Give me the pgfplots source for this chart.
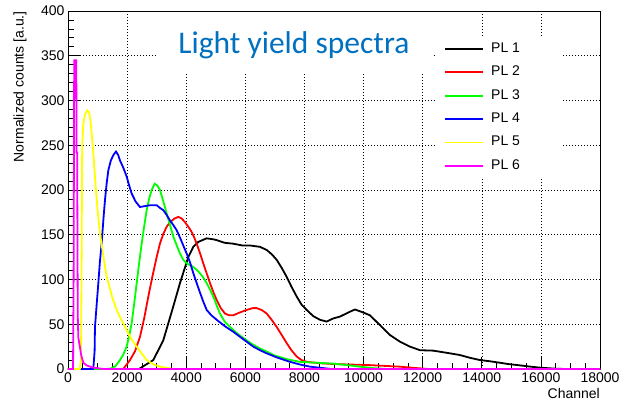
\documentclass[border=0pt]{standalone}
\usepackage{pgfplots}
\pgfplotsset{compat=1.18}
\usepackage{fontspec}
\setmainfont{Liberation Sans}
\newfontfamily\carlito{Carlito}
\definecolor{lyblue}{RGB}{0,112,192}
\definecolor{pl3}{RGB}{0,255,0}
\definecolor{pl5}{RGB}{255,255,0}
\definecolor{pl6}{RGB}{255,0,255}
\begin{document}
\begin{tikzpicture}
\begin{axis}[
 at={(68pt,32pt)}, anchor=south west,
 scale only axis, width=532pt, height=358pt,
 xmin=0, xmax=18000, ymin=0, ymax=400,
 clip=false,
 xtick={0,2000,...,18000}, ytick={0,50,...,400},
 minor x tick num=3, minor y tick num=4,
 tick align=inside, xtick pos=left, ytick pos=left,
 major tick length=12pt, minor tick length=6pt,
 grid=major,
 major grid style={black, line width=0.5pt, dash pattern=on 0.8pt off 2.2pt},
 axis line style={line width=0.8pt},
 tick style={black, line width=0.7pt},
 scaled x ticks=false,
 /pgf/number format/1000 sep={},
 /pgf/number format/assume math mode=true,
 ticklabel style={font=\fontsize{14}{16}\selectfont},
 xlabel={Channel}, ylabel={Normalized counts [a.u.]},
 every axis x label/.style={at={(rel axis cs:1,0)}, anchor=north east, yshift=-19pt, inner sep=0pt, font=\fontsize{14}{16}\selectfont},
 every axis y label/.style={at={(rel axis cs:0,1)}, xshift=-48pt, rotate=90, anchor=east, inner sep=0pt, font=\fontsize{14}{16}\selectfont},
 legend cell align=left,
 legend style={at={(rel axis cs:0.694,0.927)}, anchor=north west, draw=none, fill=none,
   font=\fontsize{14}{16}\selectfont, inner xsep=7pt, inner ysep=3pt, row sep=6.4pt,
   nodes={inner sep=2pt, text height=10pt, text depth=3pt},
   /tikz/every odd column/.append style={column sep=5pt}},
 legend image code/.code={\draw[#1, line width=1.8pt] (0pt,0pt) -- (38pt,0pt);},
 every axis plot/.append style={line width=1.8pt},
]
\addplot[black] coordinates {(0,0) (2400,0) (2886,10) (3224,32) (3563,70) (3789,96) (4070,125) (4240,136.5) (4410,142) (4692,146) (4900,145) (5030,144) (5300,141) (5592,140) (5900,138) (6157,138) (6495,136.5) (6722,133) (6900,128) (7060,122) (7230,113) (7398,103) (7560,92) (7737,81) (7900,72) (8075,66) (8300,59) (8525,55) (8750,53) (8975,56.5) (9200,58.5) (9540,64) (9710,66.5) (10000,63) (10216,60) (10555,49) (10893,38) (11232,30.5) (11570,25) (11908,21) (12359,20.5) (12923,17.5) (13261,15.6) (13600,12.5) (13938,10) (14300,8.5) (14614,7) (14900,5.5) (15179,4.5) (15600,2.8) (15968,1.5) (16418,0.5) (16800,0) (18000,0)};
\addplot[red] coordinates {(0,0) (1871,0) (2097,10) (2270,20) (2436,36) (2580,57) (2718,81) (2860,104) (3000,125) (3110,140) (3224,151) (3340,159) (3451,164) (3600,168) (3732,170) (3850,168) (3958,164) (4070,159) (4185,153) (4270,147) (4354,140) (4470,129) (4578,118) (4690,107) (4804,96) (4917,86) (5030,77) (5170,68) (5311,62) (5450,60) (5592,60) (5800,63) (6045,66) (6250,68) (6384,68) (6550,66) (6722,62) (6890,55) (7060,47) (7230,38) (7398,29) (7560,21) (7737,14) (7900,10) (8075,8) (8500,6.5) (8975,5.6) (9500,5) (10105,4.5) (10700,3.5) (11232,2.6) (11796,1) (12200,0) (18000,0)};
\addplot[pl3] coordinates {(0,0) (1421,0) (1600,3) (1759,10) (1870,16) (1985,25) (2070,37) (2154,51) (2240,73) (2324,96) (2410,119) (2493,140) (2580,160) (2662,177.5) (2750,191) (2831,200) (2933,207) (3020,205) (3112,200) (3220,188) (3338,174) (3450,161) (3563,148) (3680,138) (3789,129) (3900,122) (4015,118) (4130,116) (4240,114) (4350,111) (4465,107) (4580,102) (4692,96) (4800,89) (4917,81) (5030,71) (5142,62) (5300,53) (5480,47) (5750,39) (6045,32) (6270,27) (6495,23) (6722,19.5) (7000,15) (7400,11) (7849,8) (8400,7) (8975,6) (9400,4.5) (9878,2.6) (10300,1) (10800,0) (18000,0)};
\addplot[blue] coordinates {(0,0) (856,0) (900,20) (913,47) (970,72) (1026,96) (1080,120) (1139,140.5) (1200,168) (1252,189) (1310,208) (1365,222) (1450,233) (1534,239) (1624,243) (1700,239) (1759,233) (1870,225) (1985,215) (2070,205) (2154,196) (2290,187) (2436,181) (2600,182) (2774,183) (3000,183) (3110,180) (3224,177.5) (3340,172) (3451,166) (3560,161) (3677,155) (3800,146) (3900,138) (4015,129) (4130,119) (4240,107) (4354,96) (4470,85) (4580,75) (4692,66) (4850,60) (5030,55) (5300,48) (5592,41.6) (5900,34) (6269,25) (6495,21) (6722,17.5) (7100,12.5) (7510,8) (7849,5) (8187,2.6) (8630,1) (8900,0) (18000,0)};
\addplot[pl5] coordinates {(0,0) (400,0) (440,10) (460,120) (480,248) (518,274) (580,285) (653,289) (710,287) (760,278) (802,263) (860,240) (913,214) (971,189) (1030,168) (1083,152) (1200,125) (1309,103) (1480,82) (1648,66) (1820,54) (1986,43.5) (2150,33) (2324,25) (2500,17) (2662,10) (2900,5) (3112,2.6) (3552,0) (18000,0)};
\addplot[pl6] coordinates {(0,0) (170,0) (190,100) (210,345) (280,345) (290,242) (310,242) (320,150) (330,60) (350,35) (400,25) (450,15) (518,7) (632,4) (800,2) (971,1) (1200,0) (18000,0)};
\legend{PL 1,PL 2,PL 3,PL 4,PL 5,PL 6}
\fill[white] (axis cs:3011,331.5) rectangle (axis cs:12348,398.5);
\fill[white] (axis cs:12483,214.7) rectangle (axis cs:16746,371);
\node[font=\carlito\fontsize{31.5}{34}\selectfont, text=lyblue, anchor=base] at (axis cs:7645,352.4) {Light yield spectra};
\end{axis}
\pgfresetboundingbox
\path[use as bounding box] (0,0) rectangle (622pt,401pt);
\end{tikzpicture}
\end{document}
